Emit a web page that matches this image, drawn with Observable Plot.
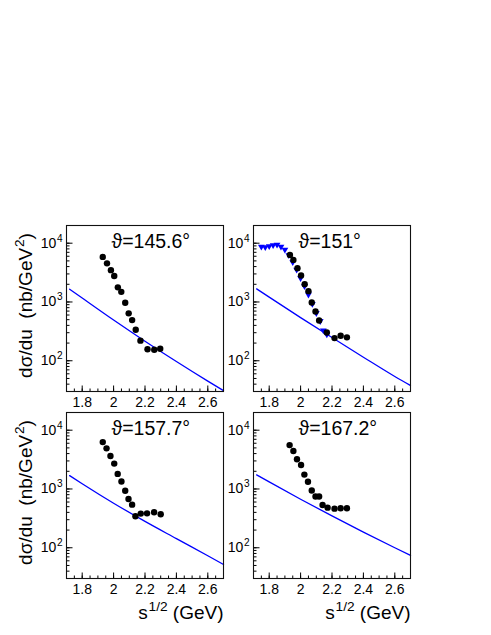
<!DOCTYPE html>
<html><head><meta charset="utf-8">
<script src="https://cdn.jsdelivr.net/npm/d3@7"></script>
<script src="https://cdn.jsdelivr.net/npm/@observablehq/plot@0.6"></script>
<style>
html,body{margin:0;padding:0;background:#fff;}
#chart{position:relative;width:491px;height:635px;overflow:hidden;}
#chart svg{position:absolute;background:transparent;max-width:none;overflow:visible;}
</style></head><body><div id="chart"></div>
<script>
// ---- axes ----
const xDomain = [1.7, 2.7];
const yDomain = [30, 20000];
const xTicks = [1.8, 2.0, 2.2, 2.4, 2.6];
const xTickLabels = ["1.8", "2", "2.2", "2.4", "2.6"];
const yTicks = [100, 1000, 10000];
const yTickLabels = ["10^{2}", "10^{3}", "10^{4}"];
const yLabel = "dσ/du  (nb/GeV^{2})";
const xLabel = "s^{1/2} (GeV)";
const titles = ["ϑ=145.6°", "ϑ=151°", "ϑ=157.7°", "ϑ=167.2°"];

// ---- data: black circles ----
const s145 = [1.931, 1.958, 1.983, 2.004, 2.027, 2.049, 2.074, 2.096, 2.118, 2.141, 2.171, 2.216, 2.259, 2.297];
const d145 = [5850, 4540, 3480, 2760, 1775, 1486, 968, 641, 492, 336, 220, 157, 154, 160];
const s151 = [1.932, 1.954, 1.980, 2.003, 2.026, 2.050, 2.071, 2.095, 2.118, 2.167, 2.216, 2.255, 2.295];
const d151 = [6320, 5200, 3760, 2825, 2010, 1528, 982, 690, 485, 303, 243, 266, 250];
const s157 = [1.931, 1.955, 1.980, 2.004, 2.026, 2.050, 2.074, 2.095, 2.118, 2.139, 2.173, 2.213, 2.258, 2.300];
const d157 = [6270, 4910, 3640, 2700, 1806, 1340, 933, 675, 541, 343, 381, 385, 401, 371];
const s167 = [1.930, 1.954, 1.977, 2.003, 2.024, 2.047, 2.071, 2.095, 2.118, 2.140, 2.172, 2.216, 2.255, 2.295];
const d167 = [5580, 4420, 3200, 2565, 1757, 1324, 944, 747, 747, 535, 481, 463, 469, 469];

// ---- data: blue triangles (151 deg) ----
const sTri = [1.75, 1.775, 1.80, 1.825, 1.85, 1.875, 1.90, 1.925, 1.95, 1.975, 2.0, 2.025, 2.05, 2.075, 2.10, 2.125, 2.145, 2.167];
const dTri = [8650, 8490, 8830, 9180, 9360, 8650, 7690, 6210, 4720, 3520, 2525, 1845, 1324, 913, 641, 469, 324, 277];

// ---- data: blue model curves ----
const curveS = [1.72, 1.8, 2.0, 2.2, 2.4, 2.6, 2.7];
const c145 = [1650, 1165, 492, 215, 97, 45, 31];
const c151 = [1670, 1208, 542, 248, 115, 54, 38];
const c157 = [1690, 1230, 573, 281, 143, 73, 52];
const c167 = [1740, 1318, 670, 348, 185, 100, 74];

const zip = (xs, ys) => xs.map((x, i) => ({x, y: ys[i]}));

const panels = [
  {title: titles[0], pts: zip(s145, d145), curve: zip(curveS, c145), tri: null, col: 0, row: 0},
  {title: titles[1], pts: zip(s151, d151), curve: zip(curveS, c151), tri: zip(sTri, dTri), col: 1, row: 0},
  {title: titles[2], pts: zip(s157, d157), curve: zip(curveS, c157), tri: null, col: 0, row: 1},
  {title: titles[3], pts: zip(s167, d167), curve: zip(curveS, c167), tri: null, col: 1, row: 1}
];

// tick positions
const yMinor = [];
for (const dec of [10, 100, 1000, 10000]) for (const m of [1,2,3,4,5,6,7,8,9]) {
  const v = dec * m; if (v >= yDomain[0] && v <= yDomain[1]) yMinor.push(v);
}
const xMinor = d3.range(1.75, 2.70, 0.05).map(v => +v.toFixed(2));

const tickRight = {draw(ctx, size) { const l = Math.sqrt(size / Math.PI); ctx.moveTo(0, 0); ctx.lineTo(l, 0); }};
const tickUp = {draw(ctx, size) { const l = Math.sqrt(size / Math.PI); ctx.moveTo(0, 0); ctx.lineTo(0, -l); }};
const triDown = {draw(ctx, size) { const r = Math.sqrt(size / Math.PI); ctx.moveTo(-r, -r * 0.65); ctx.lineTo(r, -r * 0.65); ctx.lineTo(0, r * 1.05); ctx.closePath(); }};

const FONT = "'Liberation Sans', Arial, Helvetica, sans-serif";
const BLUE = "#0000ff";
const ML = 66, MR = 14, MT = 10, FW = 157, FH = 166;

function supify(svg) {
  svg.querySelectorAll("text").forEach(t => {
    const txt = t.textContent;
    if (!txt.includes("^{")) return;
    const fs = parseFloat(getComputedStyle(t).fontSize);
    const parts = txt.split(/(\^\{[^}]*\})/);
    while (t.firstChild) t.removeChild(t.firstChild);
    for (const p of parts) {
      if (!p) continue;
      const ts = document.createElementNS("http://www.w3.org/2000/svg", "tspan");
      if (p.startsWith("^{")) {
        ts.textContent = p.slice(2, -1);
        ts.setAttribute("baseline-shift", (fs * 0.42).toFixed(1) + "px");
        ts.setAttribute("font-size", (fs * 0.72).toFixed(1) + "px");
        ts.setAttribute("dx", (fs * 0.04).toFixed(1));
      } else ts.textContent = p;
      t.appendChild(ts);
    }
  });
}

const root = document.getElementById("chart");
for (const p of panels) {
  const bottom = p.row === 1;
  const MB = bottom ? 62 : 28;
  const marks = [
    Plot.line(p.curve, {x: "x", y: "y", stroke: BLUE, strokeWidth: 1.3, curve: "monotone-x"}),
    Plot.dot(yMinor, {y: d => d, frameAnchor: "left", symbol: tickRight, r: 3, stroke: "black", fill: "none", strokeWidth: 1}),
    Plot.dot(yTicks, {y: d => d, frameAnchor: "left", symbol: tickRight, r: 6, stroke: "black", fill: "none", strokeWidth: 1}),
    Plot.dot(xMinor, {x: d => d, frameAnchor: "bottom", symbol: tickUp, r: 3, stroke: "black", fill: "none", strokeWidth: 1}),
    Plot.dot(xTicks, {x: d => d, frameAnchor: "bottom", symbol: tickUp, r: 6, stroke: "black", fill: "none", strokeWidth: 1}),
  ];
  if (p.tri) marks.push(Plot.dot(p.tri, {x: "x", y: "y", symbol: triDown, r: 3.4, fill: BLUE, stroke: "none"}));
  marks.push(Plot.dot(p.pts, {x: "x", y: "y", r: 3.2, fill: "black", stroke: "none"}));
  marks.push(Plot.frame({stroke: "#111", strokeWidth: 1.1}));
  marks.push(Plot.text([p.title], {frameAnchor: "top-left", dx: 45, dy: 9, textAnchor: "start", lineAnchor: "top", fontSize: 19.5, fill: "black"}));
  if (p.col === 0) marks.push(Plot.text([yLabel], {frameAnchor: "left", rotate: -90, dx: -41, dy: -3, fontSize: 19, textAnchor: "middle", lineAnchor: "middle", fill: "black"}));
  if (bottom) marks.push(Plot.text([xLabel], {frameAnchor: "bottom-right", dy: 34, fontSize: 19, textAnchor: "end", lineAnchor: "middle", fill: "black"}));

  const svg = Plot.plot({
    width: ML + FW + MR, height: MT + FH + MB,
    marginLeft: ML, marginRight: MR, marginTop: MT, marginBottom: MB,
    style: {fontFamily: FONT, fontSize: "14px", background: "transparent", color: "black", overflow: "visible"},
    x: {domain: xDomain, ticks: xTicks, tickFormat: d => xTickLabels[xTicks.indexOf(d)], tickSize: 0, tickPadding: 6, label: null},
    y: {type: "log", domain: yDomain, ticks: yTicks, tickFormat: d => yTickLabels[yTicks.indexOf(d)], tickSize: 0, tickPadding: 4, label: null},
    marks
  });
  svg.style.left = (p.col === 0 ? 0 : 187) + "px";
  svg.style.top = (p.row === 0 ? 215 : 402) + "px";
  root.appendChild(svg);
  supify(svg);
}
</script></body></html>
